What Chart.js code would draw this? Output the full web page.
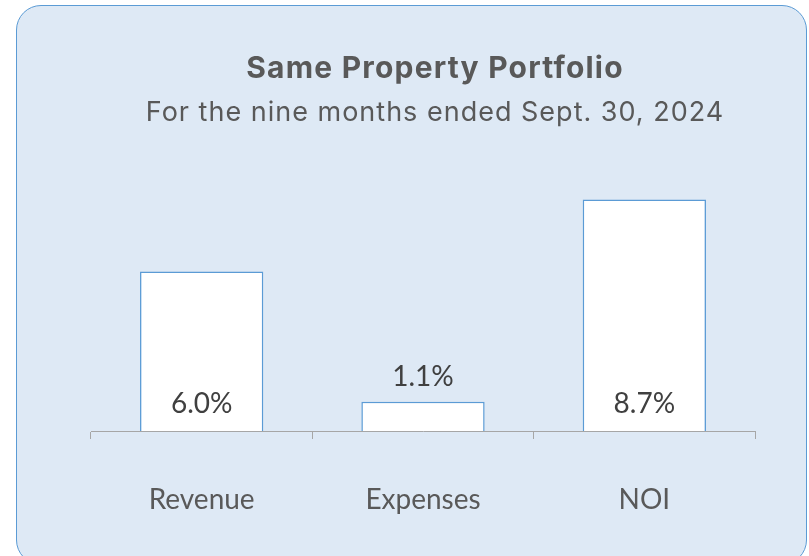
<!DOCTYPE html>
<html>
<head>
<meta charset="utf-8">
<script src="https://cdn.jsdelivr.net/npm/chart.js@4"></script>
<style>
  html, body { margin: 0; padding: 0; background: #fff; overflow: hidden; }
  #card {
    position: absolute; left: 16px; top: 5px; width: 791px; height: 560px;
    box-sizing: border-box; border: 1.5px solid #5b9bd5; border-radius: 25px;
    background: #dee9f5;
  }
  #samePropChart { position: absolute; left: 0; top: 0; }
</style>
</head>
<body>
<div id="card"></div>
<canvas id="samePropChart" width="809" height="556"></canvas>
<script>
const categories = ['Revenue', 'Expenses', 'NOI'];
const growth = [6.0, 1.1, 8.7];
const chartTitle = 'Same Property Portfolio';
const chartSubtitle = 'For the nine months ended Sept. 30, 2024';

// titles are centred on the card, not on the plot, so draw them here
const cardTitles = {
    id: 'cardTitles',
    afterDraw(chart) {
        let c = chart.ctx;
        c.save();
        c.textAlign = 'center';
        c.textBaseline = 'alphabetic';
        c.fillStyle = '#595959';
        c.font = '700 30px Inter';
        c.letterSpacing = '1.2px';
        c.fillText(chartTitle, 435, 78);
        c.font = '400 27px Inter';
        c.letterSpacing = '1px';
        c.fillText(chartSubtitle, 435, 121);
        c.restore();
    }
};

// value labels: inside the bar near the base, above it when the bar is short
const valueLabels = {
    id: 'valueLabels',
    afterDatasetsDraw(chart) {
        let c = chart.ctx;
        let meta = chart.getDatasetMeta(0);
        c.save();
        c.textAlign = 'center';
        c.textBaseline = 'alphabetic';
        c.fillStyle = '#404040';
        c.font = '28px Lato';
        meta.data.forEach((bar, i) => {
            let text = growth[i].toFixed(1) + '%';
            let y = (bar.base - bar.y > 45) ? bar.base - 18 : bar.y - 16;
            c.fillText(text, bar.x, y);
        });
        c.restore();
    }
};

let ctx = document.getElementById('samePropChart').getContext('2d');

let samePropChart = new Chart(ctx, {
    type: 'bar',
    data: {
        labels: categories,
        datasets: [{
            data: growth,
            backgroundColor: '#ffffff',
            borderColor: '#5b9bd5',
            borderWidth: 1.5,
            barPercentage: 0.557,
            categoryPercentage: 1.0,
        }]
    },
    plugins: [cardTitles, valueLabels],
    options: {
        responsive: false,
        animation: false,
        layout: {
            padding: { left: 91, right: 54, top: 165, bottom: 39 }
        },
        plugins: {
            legend: { display: false },
            tooltip: { enabled: false },
            title: { display: false },
        },
        scales: {
            y: {
                display: false,
                min: 0,
                max: 10,
            },
            x: {
                afterFit: (scale) => { scale.height = 86; },
                ticks: {
                    color: '#595959',
                    padding: 44,
                    font: { family: 'Lato', size: 28 }
                },
                grid: {
                    drawOnChartArea: false,
                    tickLength: 8,
                    color: '#a6a6a6',
                },
                border: {
                    color: '#a6a6a6',
                    width: 1,
                }
            }
        }
    }
});
</script>
</body>
</html>
